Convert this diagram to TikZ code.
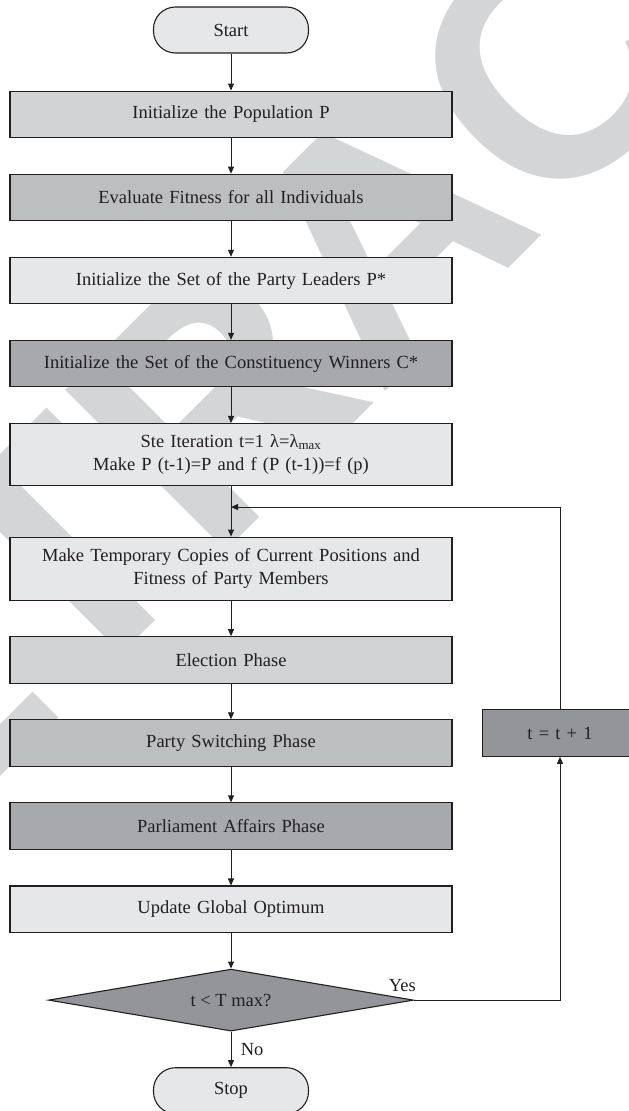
\documentclass[tikz,border=0pt]{standalone}
\usepackage{fontspec}
\setmainfont{Liberation Serif}
\newfontfamily\wmfont{Liberation Sans}
\usepackage{xcolor}
\usetikzlibrary{positioning}
\usetikzlibrary{shapes.geometric,arrows.meta}

\definecolor{fillA}{HTML}{E6E7E8}
\definecolor{fillB}{HTML}{D1D3D4}
\definecolor{fillC}{HTML}{BCBEC0}
\definecolor{fillD}{HTML}{A7A9AC}
\definecolor{fillE}{HTML}{939598}
\definecolor{ink}{HTML}{231F20}
\definecolor{wmgray}{HTML}{D4D5D6}

\begin{document}
\begin{tikzpicture}[x=1pt, y=-1pt, node distance=35.5pt,
		font=\fontsize{18.5}{23.5}\selectfont, text=ink,
		box/.style = {draw=ink, line width=1.1pt, rectangle, minimum width=442pt, minimum height=46.5pt, text width=442pt, inner sep=0pt, align=center},
		term/.style = {draw=ink, line width=1.1pt, rectangle, rounded corners=22pt, fill=fillA, minimum width=155pt, minimum height=46pt},
		decision/.style = {draw=ink, line width=1.1pt, diamond, aspect=5.9, fill=fillE, minimum width=365pt, minimum height=62pt, inner sep=0pt},
		arr/.style = {draw=ink, line width=0.9pt, -{Triangle[length=7pt,width=6pt]}},
		wm/.style = {font=\wmfont\bfseries\fontsize{330}{330}\selectfont, text=wmgray, inner sep=0pt}]
		\useasboundingbox (0,0) rectangle (629,1111);
		\clip (0,0) rectangle (629,1111);
		
		% watermark
		\node[wm, rotate=45] (wmark) at (383,233) {RETRACTED};
		
		\node[term] (start) at (231,30) {Start};
		\node[box, fill=fillB] (init) [below = 37pt of start] {Initialize the Population P};
		\node[box, fill=fillC] (eval) [below = of init] {Evaluate Fitness for all Individuals};
		\node[box, fill=fillA] (lead) [below = of eval] {Initialize the Set of the Party Leaders P*};
		\node[box, fill=fillD] (cons) [below = of lead] {Initialize the Set of the Constituency Winners C*};
		\node[box, fill=fillA, minimum height=62pt] (iter) [below = of cons] {Ste Iteration t=1 λ=λ\textsubscript{max}\\Make P (t-1)=P and f (P (t-1))=f (p)};
		\node[box, fill=fillA, minimum height=63pt] (temp) [below = 50.5pt of iter] {Make Temporary Copies of Current Positions and\\Fitness of Party Members};
		\node[box, fill=fillB] (elec) [below = of temp] {Election Phase};
		\node[box, fill=fillC] (swit) [below = of elec] {Party Switching Phase};
		\node[box, fill=fillD] (parl) [below = of swit] {Parliament Affairs Phase};
		\node[box, fill=fillA] (upd) [below = of parl] {Update Global Optimum};
		\node[decision] (cond) [below = of upd] {t < T max?};
		\node[term] (stop) [below = of cond] {Stop};
		\node[box, fill=fillE, minimum width=155pt, text width=155pt] (incr) at (560,733) {t = t + 1};
		\coordinate[below = 21pt of iter] (join);
		
		\foreach \a/\b in {start/init, init/eval, eval/lead, lead/cons, cons/iter, iter/temp, temp/elec, elec/swit, swit/parl, parl/upd, upd/cond}
			\draw[arr] (\a) -- (\b);
		\draw[arr] (cond) -- node[midway, right=6pt] (no) {No} (stop);
		\draw[arr] (cond.east) -| (incr.south);
		\node[inner sep=0pt] (yes) [above left = 8pt and -2pt of cond.east] {Yes};
		\draw[arr] (incr.north) |- (join);
	\end{tikzpicture}
\end{document}
